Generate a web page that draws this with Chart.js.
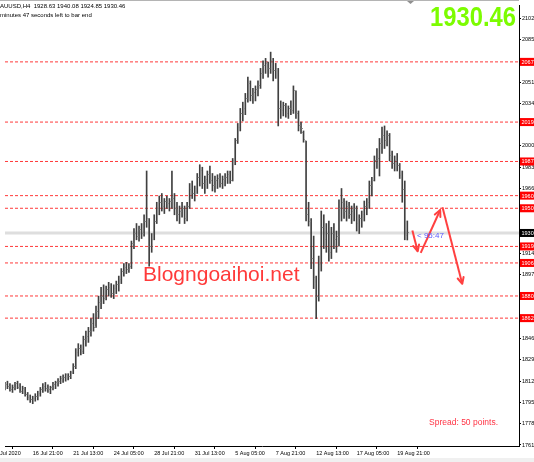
<!DOCTYPE html>
<html>
<head>
<meta charset="utf-8">
<title>XAUUSD H4</title>
<script src="https://cdn.jsdelivr.net/npm/chart.js@4.4.0/dist/chart.umd.min.js"></script>
<style>
  html, body { margin: 0; padding: 0; background: #fff; }
  canvas { display: block; }
</style>
</head>
<body>
<canvas id="chart" width="534" height="462"></canvas>
<script>
// H4 bars, index 0 = 16 Jul 21:00
const firstBar = -11;

const opens = [1806,1809,1808,1805,1807,1810,1807,1804,1806,1801,1799,
  1797,1798,1800,1802,1805,1808,1806,1805,1807,1809,
  1811,1812,1814,1815,1817,1816,1819,1824,1835,1838,
  1836,1845,1848,1852,1858,1856,1868,1875,1880,1878,
  1885,1887,1882,1886,1889,1893,1900,1903,1901,1904,
  1922,1930,1928,1933,1930,1940,1942,1920,1925,1940,
  1950,1955,1952,1956,1954,1956,1958,1950,1945,1948,
  1950,1942,1952,1965,1962,1966,1975,1980,1970,1973,
  1977,1972,1968,1972,1974,1970,1973,1975,1977,1972,
  1988,2004,2015,2026,2030,2038,2050,2040,2043,2045,
  2048,2058,2064,2066,2062,2068,2060,2060,2030,2028,
  2032,2026,2030,2028,2044,2026,2016,2011,2004,1945,
  1940,1910,1890,1880,1905,1935,1925,1930,1915,1930,
  1925,1928,1950,1955,1948,1952,1945,1948,1950,1938,
  1942,1945,1952,1955,1968,1972,1988,1990,2002,2008,
  2004,2008,1992,1986,1988,1984,1975,1965,1928.63];

const highs = [1811,1812,1810,1809,1811,1812,1810,1808,1807,1803,1801,
  1800,1802,1804,1807,1810,1811,1809,1808,1811,1812,
  1814,1816,1817,1818,1818,1820,1826,1838,1842,1841,
  1848,1852,1855,1862,1866,1872,1880,1887,1889,1888,
  1891,1890,1889,1892,1896,1902,1906,1907,1906,1924,
  1934,1938,1936,1938,1945,1980,1942,1930,1945,1955,
  1960,1962,1958,1960,1958,1980,1962,1955,1952,1955,
  1952,1955,1970,1972,1968,1978,1985,1983,1976,1980,
  1984,1978,1976,1977,1978,1976,1978,1980,1980,1990,
  2006,2018,2030,2035,2042,2055,2052,2046,2048,2052,
  2062,2068,2070,2067,2075,2070,2066,2062,2036,2035,
  2034,2032,2036,2048,2044,2028,2019,2012,2004,1955,
  1942,1928,1896,1912,1948,1945,1938,1940,1935,1938,
  1932,1957,1966,1958,1956,1955,1952,1954,1952,1945,
  1948,1956,1958,1972,1975,1992,1998,2006,2015,2016,
  2012,2010,1996,1992,1994,1986,1980,1972,1940.08];

const lows = [1805,1806,1804,1803,1805,1806,1803,1802,1800,1797,1795,
  1794,1796,1797,1800,1803,1804,1803,1802,1805,1806,
  1808,1810,1811,1812,1813,1814,1818,1822,1832,1833,
  1834,1840,1843,1848,1852,1855,1862,1870,1874,1877,
  1880,1879,1878,1882,1884,1890,1896,1898,1899,1902,
  1918,1925,1924,1926,1928,1935,1904,1915,1925,1938,
  1945,1948,1946,1950,1948,1950,1945,1940,1938,1943,
  1938,1940,1950,1958,1956,1962,1968,1966,1962,1966,
  1970,1964,1963,1966,1967,1966,1968,1970,1970,1972,
  1985,2002,2012,2020,2025,2035,2036,2034,2036,2040,
  2046,2054,2058,2055,2058,2052,2054,2016,2022,2024,
  2023,2022,2025,2026,2022,2012,2010,2003,1940,1936,
  1902,1886,1862,1876,1900,1918,1915,1908,1910,1918,
  1915,1920,1940,1942,1940,1942,1938,1940,1932,1930,
  1935,1940,1945,1950,1960,1972,1982,1976,1994,1998,
  2000,1988,1982,1980,1980,1974,1955,1925,1924.85];

const closes = [1809,1808,1805,1807,1810,1807,1804,1806,1801,1799,1797,
  1798,1800,1802,1805,1808,1806,1805,1807,1809,1811,
  1812,1814,1815,1817,1816,1819,1824,1835,1838,1836,
  1845,1848,1852,1858,1855,1868,1875,1880,1878,1885,
  1887,1882,1886,1889,1893,1900,1903,1901,1904,1922,
  1930,1928,1933,1930,1940,1942,1920,1925,1940,1950,
  1955,1952,1956,1954,1956,1958,1950,1945,1948,1950,
  1942,1952,1965,1962,1966,1975,1980,1970,1973,1977,
  1972,1968,1972,1974,1970,1973,1975,1977,1972,1988,
  2004,2015,2026,2030,2038,2050,2040,2043,2045,2048,
  2058,2064,2066,2062,2068,2060,2062,2030,2028,2032,
  2026,2030,2028,2044,2026,2016,2014,2005,1945,1940,
  1910,1895,1880,1905,1935,1925,1930,1915,1930,1925,
  1928,1950,1955,1948,1952,1945,1948,1950,1938,1942,
  1945,1952,1955,1968,1972,1988,1990,2002,2008,2004,
  2008,1992,1986,1988,1984,1976,1965,1928,1930.46];

const timeTicks = [-16, 0, 16, 32, 48, 64, 80, 96, 112, 128, 144];
const timeLabels = ['14 Jul 2020', '16 Jul 21:00', '21 Jul 13:00', '24 Jul 05:00', '28 Jul 21:00',
  '31 Jul 13:00', '5 Aug 05:00', '7 Aug 21:00', '12 Aug 13:00', '17 Aug 05:00', '19 Aug 21:00'];

const priceTicks = [2102, 2085, 2068, 2051, 2034, 2017, 2000, 1983, 1966, 1949, 1932,
  1914, 1897, 1880, 1863, 1846, 1829, 1812, 1795, 1778, 1761];

// horizontal levels (red dashed)
const levels = [2067.20, 2019.10, 1987.60, 1960.30, 1950.20, 1919.70, 1906.50, 1880.10, 1862.40];
const lastPrice = 1930.46;

// hand drawn arrows: [bar, price] start -> end
const arrowStarts = [[150.0, 1932.5], [153.3, 1914.5], [161.9, 1951.0]];
const arrowEnds = [[152.1, 1915.8], [161.0, 1948.8], [169.7, 1889.8]];

const xMin = -10.96, xMax = 192.13;
const yMin = 1760.2, yMax = 2112.66;

Chart.defaults.font.family = "'Liberation Sans', Arial, sans-serif";

function tickImage(side) {
  const c = document.createElement('canvas');
  c.width = 3; c.height = 1;
  const g = c.getContext('2d');
  g.fillStyle = '#8c8c8c';
  g.fillRect(side === 'left' ? 0 : 2, 0, 1, 1);
  return c;
}

const barData = highs.map((h, k) => ({ x: firstBar + k, y: [lows[k], h] }));
const openData = opens.map((v, k) => ({ x: firstBar + k, y: v }));
const closeData = closes.map((v, k) => ({ x: firstBar + k, y: v }));

const levelSets = levels.map(v => ({
  type: 'line',
  data: [{ x: xMin, y: v }, { x: xMax, y: v }],
  borderColor: '#ff3a3a',
  borderWidth: 1,
  borderDash: [3, 2],
  pointRadius: 0,
  order: 9
}));

const arrowSets = arrowStarts.map((s, k) => ({
  type: 'line',
  arrow: true,
  data: [{ x: s[0], y: s[1] }, { x: arrowEnds[k][0], y: arrowEnds[k][1] }],
  borderColor: '#ff4040',
  borderWidth: 2,
  pointRadius: 0,
  order: 0
}));

const decor = {
  id: 'decor',
  beforeDraw(chart) {
    const ctx = chart.ctx;
    ctx.save();
    ctx.fillStyle = '#fff';
    ctx.fillRect(0, 0, chart.width, chart.height);
    ctx.fillStyle = '#f0f0f0';
    ctx.fillRect(0, 458, chart.width, 4);
    ctx.restore();
  },
  afterDatasetsDraw(chart) {
    const ctx = chart.ctx;
    ctx.save();
    chart.data.datasets.forEach((ds, i) => {
      if (!ds.arrow) return;
      const pts = chart.getDatasetMeta(i).data;
      const a = pts[0], b = pts[1];
      const ang = Math.atan2(b.y - a.y, b.x - a.x);
      ctx.strokeStyle = ds.borderColor;
      ctx.lineWidth = 2;
      ctx.lineCap = 'round';
      ctx.beginPath();
      [-0.45, 0.45].forEach(d => {
        ctx.moveTo(b.x, b.y);
        ctx.lineTo(b.x - 7 * Math.cos(ang + d), b.y - 7 * Math.sin(ang + d));
      });
      ctx.stroke();
    });

    // watermark + texts on the chart
    ctx.fillStyle = '#ff3a3a';
    ctx.font = "21px 'Liberation Sans', Arial, sans-serif";
    ctx.textBaseline = 'alphabetic';
    ctx.fillText('Blogngoaihoi.net', 143, 281);

    ctx.fillStyle = '#ff3344';
    ctx.font = "8.5px 'Liberation Sans', Arial, sans-serif";
    ctx.textBaseline = 'middle';
    ctx.fillText('Spread: 50 points.', 429, 423);

    ctx.fillStyle = '#5c5cff';
    ctx.font = "8px 'Liberation Sans', Arial, sans-serif";
    ctx.fillText('< 95:47', 417, 235.5);
    ctx.restore();
  },
  afterDraw(chart) {
    const ctx = chart.ctx;
    const y = chart.scales.y;
    ctx.save();
    ctx.font = "5.5px 'Liberation Sans', Arial, sans-serif";
    ctx.textBaseline = 'middle';
    levels.forEach(v => {
      const py = y.getPixelForValue(v);
      ctx.fillStyle = '#ff0000';
      ctx.fillRect(520, py - 4, 14, 8);
      ctx.fillStyle = '#fff';
      ctx.fillText(v.toFixed(2), 521.5, py + 0.5);
    });
    const lp = y.getPixelForValue(lastPrice);
    ctx.fillStyle = '#000';
    ctx.fillRect(520, lp - 4, 14, 8);
    ctx.fillStyle = '#fff';
    ctx.fillText(lastPrice.toFixed(2), 521.5, lp + 0.5);

    // header
    ctx.fillStyle = '#000';
    ctx.font = "6px 'Liberation Sans', Arial, sans-serif";
    const sym = 'XAUUSD,H4  1928.63 1940.08 1924.85 1930.46';
    ctx.fillText(sym, -ctx.measureText('X').width, 6.5);
    const line2 = '95 minutes 47 seconds left to bar end';
    ctx.fillText(line2, -ctx.measureText('95 ').width, 15.5);

    // big price, condensed to the reference width
    ctx.fillStyle = '#7cfc00';
    ctx.font = "bold 28px 'Liberation Sans', Arial, sans-serif";
    ctx.textBaseline = 'alphabetic';
    const bigW = ctx.measureText('1930.46').width;
    ctx.save();
    ctx.translate(430, 26);
    ctx.scale(86 / bigW, 1);
    ctx.fillText('1930.46', 0, 0);
    ctx.restore();

    // top frame and shift marker
    ctx.fillStyle = '#b4b4b4';
    ctx.fillRect(0, 0, 519, 1);
    ctx.fillStyle = '#909090';
    ctx.beginPath();
    ctx.moveTo(407, 1); ctx.lineTo(414, 1); ctx.lineTo(410.5, 4);
    ctx.closePath();
    ctx.fill();
    ctx.restore();
  }
};

new Chart(document.getElementById('chart'), {
  type: 'bar',
  data: {
    datasets: [
      {
        type: 'line',
        data: [{ x: xMin, y: lastPrice }, { x: xMax, y: lastPrice }],
        borderColor: '#dedede',
        borderWidth: 3,
        pointRadius: 0,
        order: 10
      },
      ...levelSets,
      {
        type: 'bar',
        data: barData,
        backgroundColor: '#404040',
        borderWidth: 0,
        barThickness: 1,
        grouped: false,
        order: 2
      },
      {
        type: 'scatter',
        data: openData,
        pointStyle: tickImage('left'),
        pointRadius: 1,
        order: 1
      },
      {
        type: 'scatter',
        data: closeData,
        pointStyle: tickImage('right'),
        pointRadius: 1,
        order: 1
      },
      ...arrowSets
    ]
  },
  options: {
    responsive: false,
    animation: false,
    events: [],
    layout: { padding: 0 },
    plugins: { legend: { display: false }, tooltip: { enabled: false }, title: { display: false } },
    scales: {
      x: {
        type: 'linear',
        min: xMin,
        max: xMax,
        offset: false,
        afterBuildTicks(scale) { scale.ticks = timeTicks.map(v => ({ value: v })); },
        afterFit(scale) { scale.height = 16; scale.paddingLeft = 0; scale.paddingRight = 0; },
        grid: { drawOnChartArea: false, drawTicks: true, tickLength: 3, tickColor: '#000' },
        border: { display: true, color: '#000', width: 1 },
        ticks: {
          autoSkip: false,
          maxRotation: 0,
          align: 'start',
          padding: 1,
          color: '#000',
          font: { size: 5.5 },
          callback: (v, i) => timeLabels[i]
        }
      },
      y: {
        type: 'linear',
        position: 'right',
        min: yMin,
        max: yMax,
        afterBuildTicks(scale) { scale.ticks = priceTicks.map(v => ({ value: v })); },
        afterFit(scale) { scale.width = 15; scale.paddingTop = 0; scale.paddingBottom = 0; },
        grid: { drawOnChartArea: false, drawTicks: true, tickLength: 2, tickColor: '#000' },
        border: { display: true, color: '#000', width: 1 },
        ticks: {
          padding: 1,
          color: '#000',
          font: { size: 5.5 },
          callback: v => String(v)
        }
      }
    }
  },
  plugins: [decor]
});
</script>
</body>
</html>
